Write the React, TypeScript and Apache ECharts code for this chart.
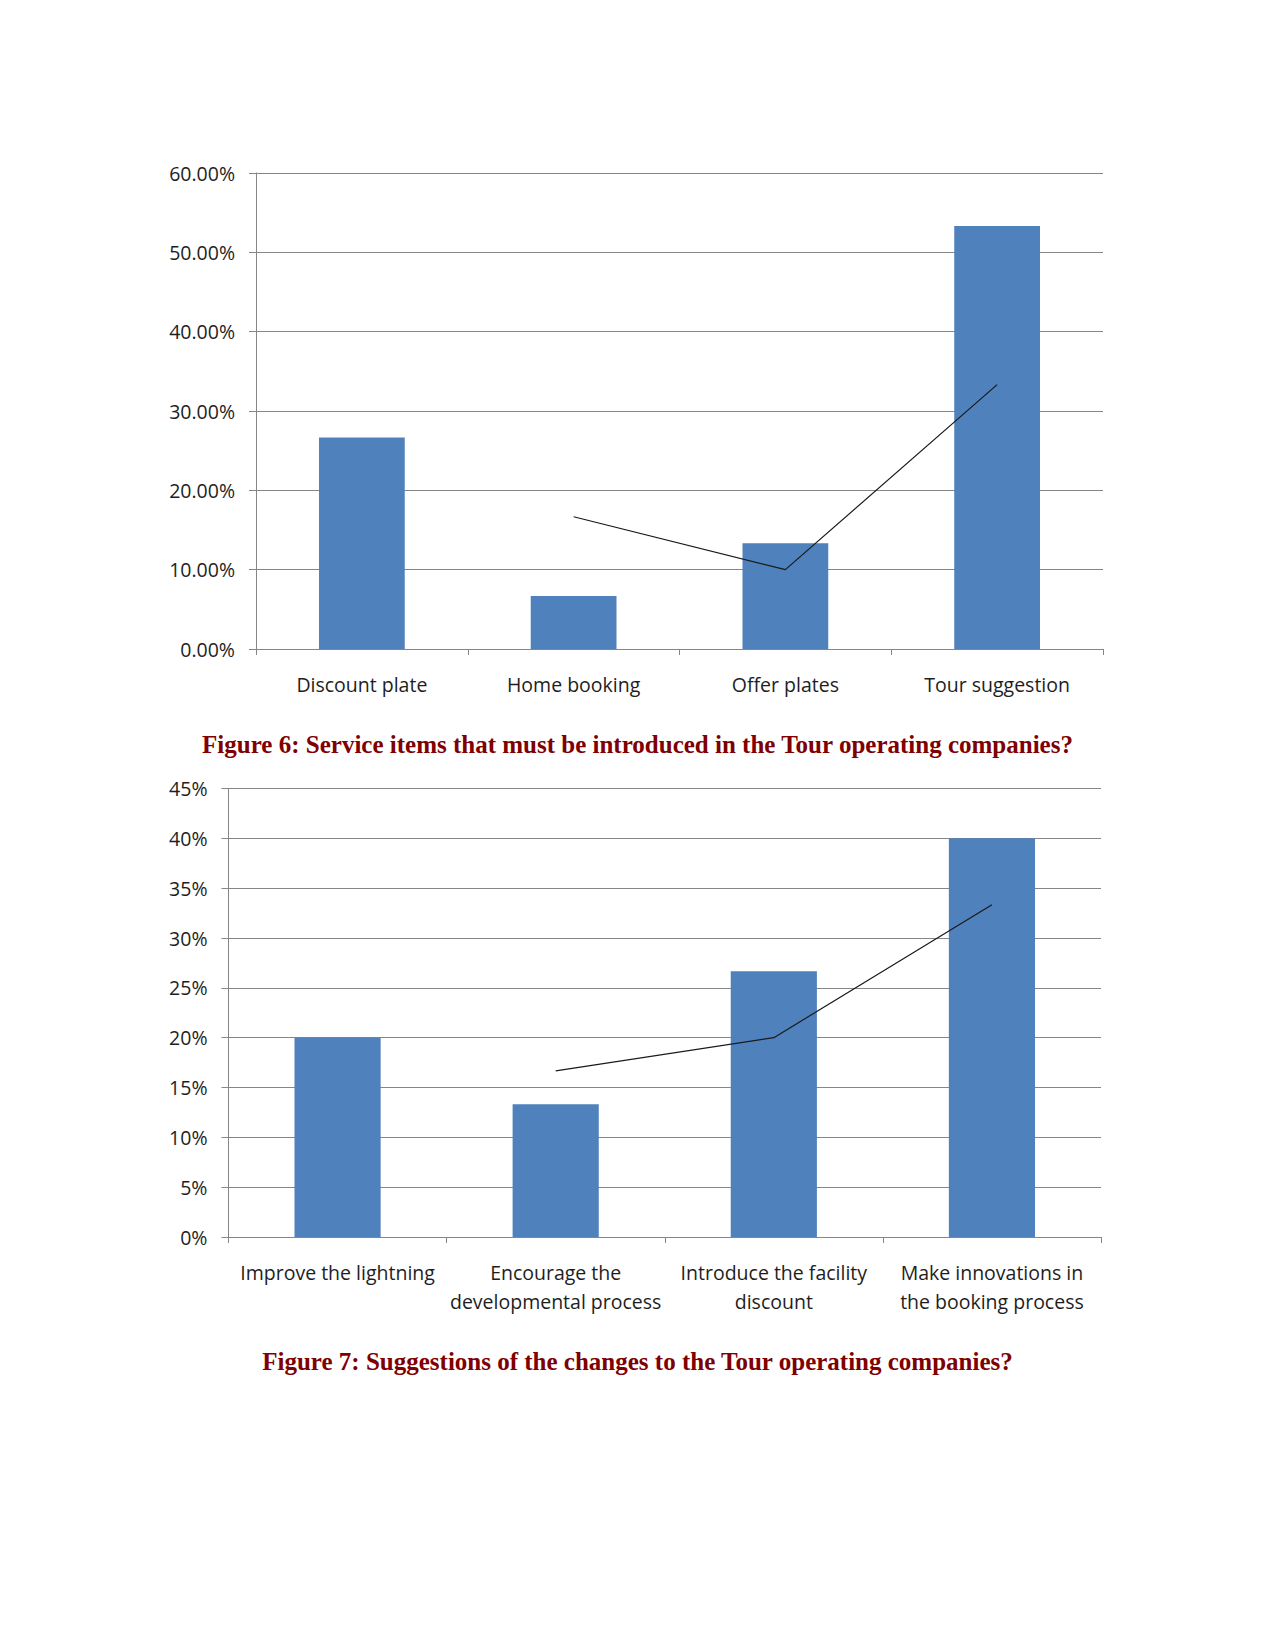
import React, { useEffect, useRef } from "react";
import * as echarts from "echarts";

const categories1 = ["Discount plate", "Home booking", "Offer plates", "Tour suggestion"];
const bars1 = [26.67, 6.67, 13.33, 53.33];
const trend1 = [null, 16.67, 10.0, 33.33];
const yTicks1 = { min: 0, max: 60, interval: 10 };

const categories2 = [
  "Improve the lightning",
  "Encourage the\ndevelopmental process",
  "Introduce the facility\ndiscount",
  "Make innovations in\nthe booking process",
];
const bars2 = [20.0, 13.33, 26.67, 40.0];
const trend2 = [null, 16.67, 20.0, 33.33];
const yTicks2 = { min: 0, max: 45, interval: 5 };

const title1 = "Figure 6: Service items that must be introduced in the Tour operating companies?";
const title2 = "Figure 7: Suggestions of the changes to the Tour operating companies?";

const GRID = "#868686";
const TXT = "#1e1e1e";
const FONT = "Open Sans";
const FS = 19.5;

function xAxis(idx: number, cats: string[]) {
  return {
    type: "category",
    gridIndex: idx,
    data: cats,
    boundaryGap: true,
    axisLine: { lineStyle: { color: GRID, width: 1 } },
    axisTick: { show: true, length: 6, alignWithLabel: false, lineStyle: { color: GRID } },
    axisLabel: {
      color: TXT,
      fontFamily: FONT,
      fontSize: FS,
      lineHeight: 29,
      margin: 21,
      interval: 0,
    },
  };
}

function yAxis(idx: number, t: { min: number; max: number; interval: number }, dec: number) {
  return {
    type: "value",
    gridIndex: idx,
    min: t.min,
    max: t.max,
    interval: t.interval,
    axisLine: { show: true, lineStyle: { color: GRID, width: 1 } },
    axisTick: { show: true, length: 7, lineStyle: { color: GRID } },
    splitLine: { show: true, lineStyle: { color: GRID, width: 1 } },
    axisLabel: {
      color: TXT,
      fontFamily: FONT,
      fontSize: FS,
      margin: 21,
      formatter: (v: number) => v.toFixed(dec) + "%",
    },
  };
}

export default function App() {
  const ref = useRef<HTMLDivElement>(null);
  useEffect(() => {
    if (!ref.current) return;
    const chart = echarts.init(ref.current, undefined, { renderer: "svg" });
    chart.setOption({
      animation: false,
      backgroundColor: "#ffffff",
      title: [
        {
          text: title1,
          left: "center",
          top: 727,
          textStyle: { fontFamily: "Liberation Serif", fontWeight: "bold", fontSize: 25, color: "#7f0000" },
        },
        {
          text: title2,
          left: "center",
          top: 1344,
          textStyle: { fontFamily: "Liberation Serif", fontWeight: "bold", fontSize: 25, color: "#7f0000" },
        },
      ],
      grid: [
        { left: 256, top: 173, width: 847, height: 476 },
        { left: 228.5, top: 788.5, width: 872.5, height: 448.5 },
      ],
      xAxis: [xAxis(0, categories1), xAxis(1, categories2)],
      yAxis: [yAxis(0, yTicks1, 2), yAxis(1, yTicks2, 0)],
      series: [
        {
          type: "bar",
          xAxisIndex: 0,
          yAxisIndex: 0,
          data: bars1,
          barWidth: "40.5%",
          itemStyle: { color: "#4F81BD" },
        },
        {
          type: "line",
          xAxisIndex: 0,
          yAxisIndex: 0,
          data: trend1,
          showSymbol: false,
          symbol: "none",
          lineStyle: { color: "#1a1a1a", width: 1.2 },
          z: 5,
        },
        {
          type: "bar",
          xAxisIndex: 1,
          yAxisIndex: 1,
          data: bars2,
          barWidth: "39.5%",
          itemStyle: { color: "#4F81BD" },
        },
        {
          type: "line",
          xAxisIndex: 1,
          yAxisIndex: 1,
          data: trend2,
          showSymbol: false,
          symbol: "none",
          lineStyle: { color: "#1a1a1a", width: 1.2 },
          z: 5,
        },
      ],
    });
    return () => chart.dispose();
  }, []);
  return (
    <div
      ref={ref}
      style={{ position: "absolute", left: 0, top: 0, width: 1275, height: 1651, background: "#fff" }}
    />
  );
}
